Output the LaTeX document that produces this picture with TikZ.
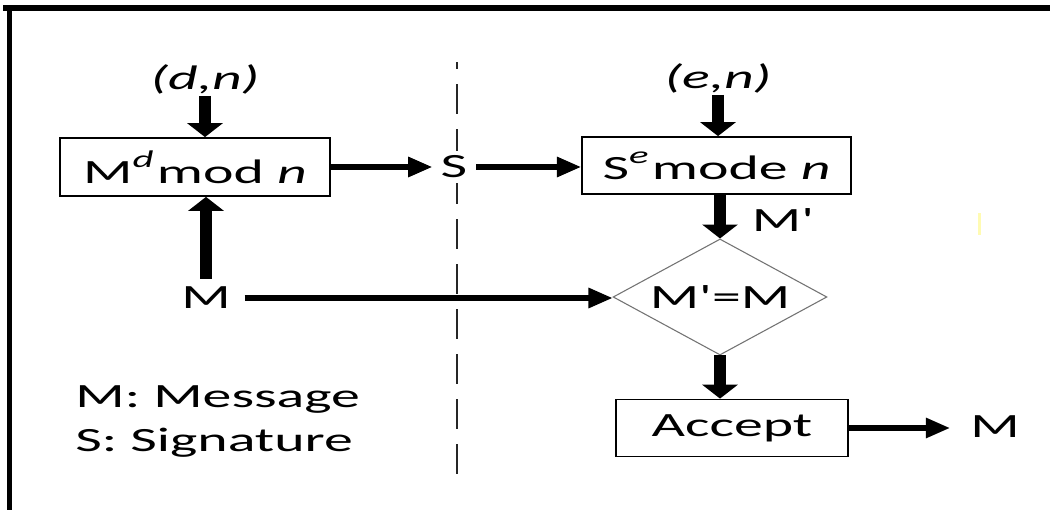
\documentclass[tikz,border=0pt]{standalone}
\usepackage{fontspec}
\setmainfont{Carlito}
\usetikzlibrary{arrows.meta,shapes.geometric}

% raised italic exponent
\newcommand{\upit}[1]{\raisebox{0.47em}{\fontsize{24}{24}\selectfont\itshape #1}}

\tikzset{
  txt/.style={font=\fontsize{34}{40}\selectfont, inner sep=2pt},
  box/.style={txt, draw, line width=1.6pt},
  arr/.style={line width=6.5pt, -{Triangle[width=20pt,length=14pt]}},
  divider/.style={line width=1.5pt, draw=black!85, dash pattern=on 30pt off 15pt},
  test/.style={diamond, draw=black!55, line width=0.9pt, inner sep=0pt,
    minimum width=125.9pt, minimum height=116pt, aspect=1.085, txt}
}

\begin{document}
\begin{tikzpicture}[x=1pt,y=1pt]
\useasboundingbox (0,0) rectangle (1050,-510);

% frame on top and left
\fill (3,-5) rectangle (1050,-11.5);
\fill (7,-5) rectangle (12,-510);
\fill[yellow!30] (978,-213) rectangle (981,-235);

% the diagram is drawn at 1/1.7 of its width and stretched back
\begin{scope}[transform canvas={xscale=1.7}, x=0.588235pt, y=1pt]

  % signer / verifier divider
  \coordinate (dtop) at (457,-62);
  \coordinate (dbot) at (457,-474);
  \draw[divider] (dbot) -- (dtop);

  % signing side
  \node[txt] (dn) at (205,-79) {\itshape(d,n)};
  \node[box, minimum width=158.8pt, minimum height=58pt] (enc) at (195,-167)
    {M\upit{d}\hspace{2pt}mod \textit{n}};
  \node[txt, inner sep=8pt] (M) at (206,-298) {M};
  \node[txt, inner sep=5pt, fill=white] (S) at (454,-167) {S};

  % verifying side
  \node[txt] (en) at (718,-78) {\itshape(e,n)};
  \node[box, minimum width=158.2pt, minimum height=57pt] (dec) at (716.5,-165.5)
    {S\upit{e}\hspace{2pt}mode \textit{n}};
  \node[txt] (Mp) at (783,-220) {M\textquotesingle};
  \node[test] (cmp) at (720,-297) {M\textquotesingle=M};
  \node[box, minimum width=136.5pt, minimum height=57pt] (acc) at (732,-428)
    {Accept};
  \node[txt, inner sep=12pt] (Mout) at (995,-427) {M};

  % legend
  \node[txt, anchor=base west, inner sep=0pt] (lgM) at (75,-408) {M: Message};
  \node[txt, anchor=base west, inner sep=0pt] (lgS) at (75,-452) {S: Signature};

  % connectors
  \draw[arr] (dn.south) -- (dn.south |- enc.north);
  \draw[arr] (M.north) -- (M.north |- enc.south);
  \draw[arr] (enc.east) -- (S.west);
  \draw[arr] (S.east) -- (S.east -| dec.west);
  \draw[arr] (en.south) -- (en.south |- dec.north);
  \draw[arr] (dec.south -| cmp.north) -- (cmp.north);
  \draw[arr] (M.east) -- (M.east -| cmp.west);
  \draw[arr] (cmp.south) -- (cmp.south |- acc.north);
  \draw[arr] (acc.east) -- (acc.east -| Mout.west);
\end{scope}
\end{tikzpicture}
\end{document}
